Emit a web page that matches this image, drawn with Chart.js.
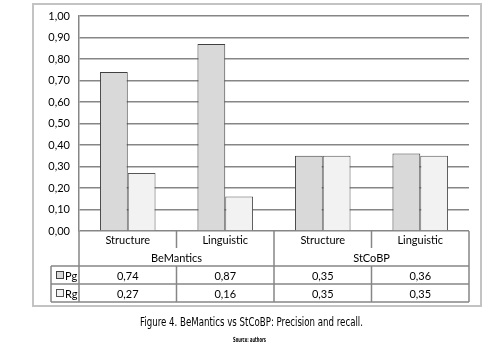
<!DOCTYPE html>
<html>
<head>
<meta charset="utf-8">
<script src="https://cdn.jsdelivr.net/npm/chart.js@4.4.1/dist/chart.umd.min.js"></script>
<style>
  html, body { margin: 0; padding: 0; background: #fff; }
  #wrap { position: relative; width: 485px; height: 351px; overflow: hidden; }
  #c { position: absolute; left: 0; top: 0; }
  .cap { position: absolute; white-space: nowrap; transform-origin: 0 0; color: #000;
         font-family: "Liberation Sans Narrow", "DejaVu Sans Condensed", "Roboto", sans-serif; }
  #caption { left: 140px; top: 315px; font-size: 12px; }
  #source { left: 233px; top: 336px; font-size: 7px; font-weight: bold; }
</style>
</head>
<body>
<div id="wrap">
  <canvas id="c" width="485" height="351"></canvas>
  <div id="caption" class="cap">Figure 4. BeMantics vs StCoBP: Precision and recall.</div>
  <div id="source" class="cap">Source: authors</div>
</div>
<script>
// ---- data ----
const categories = ['Structure', 'Linguistic', 'Structure', 'Linguistic'];
const groups = ['BeMantics', 'StCoBP'];
const seriesNames = ['Pg', 'Rg'];
const pgValues = [0.74, 0.87, 0.35, 0.36];
const rgValues = [0.27, 0.16, 0.35, 0.35];
const pgLabels = ['0,74', '0,87', '0,35', '0,36'];
const rgLabels = ['0,27', '0,16', '0,35', '0,35'];

const fillColors = ['#d9d9d9', '#f2f2f2'];
const borderColors = ['#404040', '#555555'];
const lineColor = '#868686';
const FONT = '11px Lato, "Open Sans", sans-serif';

function fmt(v) { return v.toFixed(2).replace('.', ','); }

const tablePlugin = {
  id: 'tablePlugin',
  beforeDraw(chart) {
    const ctx = chart.ctx;
    ctx.save();
    ctx.fillStyle = '#fff';
    ctx.fillRect(0, 0, chart.width, chart.height);
    ctx.strokeStyle = '#c3c3c3';
    ctx.lineWidth = 2;
    ctx.strokeRect(33, 4, 448, 302);
    ctx.restore();
  },
  afterDraw(chart) {
    const ctx = chart.ctx;
    const ca = chart.chartArea;
    const xs = chart.scales.x;
    const n = categories.length;
    const centers = categories.map((_, i) => xs.getPixelForValue(i));
    const bounds = [ca.left];
    for (let i = 0; i < n - 1; i++) bounds.push((centers[i] + centers[i + 1]) / 2);
    bounds.push(ca.right);
    const y0 = ca.bottom, y1 = y0 + 17, y2 = y0 + 35, y3 = y0 + 53, y4 = y0 + 71;
    const legL = 51;

    ctx.save();
    ctx.strokeStyle = lineColor;
    ctx.lineWidth = 1.5;
    const line = (x1, yA, x2, yB) => { ctx.beginPath(); ctx.moveTo(x1, yA); ctx.lineTo(x2, yB); ctx.stroke(); };
    // outer verticals
    line(ca.left, y0, ca.left, y4);
    line(ca.right, y0, ca.right, y4);
    // group boundary (full height)
    const mid = bounds[2];
    line(mid, y0, mid, y4);
    // category separators within groups
    line(bounds[1], y0, bounds[1], y1);
    line(bounds[3], y0, bounds[3], y1);
    line(bounds[1], y2, bounds[1], y4);
    line(bounds[3], y2, bounds[3], y4);
    // horizontal rows
    line(legL, y2, ca.right, y2);
    line(legL, y3, ca.right, y3);
    line(legL, y4, ca.right, y4);
    line(legL, y2, legL, y4);

    ctx.fillStyle = '#000';
    ctx.font = FONT;
    ctx.textAlign = 'center';
    ctx.textBaseline = 'middle';
    categories.forEach((c, i) => ctx.fillText(c, centers[i], y0 + 9.5));
    groups.forEach((g, gi) => ctx.fillText(g, (bounds[gi * 2] + bounds[gi * 2 + 2]) / 2, (y1 + y2) / 2 + 1));
    pgLabels.forEach((t, i) => ctx.fillText(t, centers[i], (y2 + y3) / 2 + 1));
    rgLabels.forEach((t, i) => ctx.fillText(t, centers[i], (y3 + y4) / 2 + 1));

    // legend keys
    ctx.textAlign = 'left';
    [y2, y3].forEach((yt, si) => {
      const cy = yt + 9;
      ctx.fillStyle = fillColors[si];
      ctx.fillRect(56, cy - 3.5, 7, 7);
      ctx.strokeStyle = borderColors[si];
      ctx.lineWidth = 1;
      ctx.strokeRect(56.5, cy - 3.5, 7, 7);
      ctx.fillStyle = '#000';
      ctx.fillText(seriesNames[si], 65, cy + 1);
    });
    ctx.restore();
  }
};

new Chart(document.getElementById('c'), {
  type: 'bar',
  data: {
    labels: categories,
    datasets: [
      { label: seriesNames[0], data: pgValues, backgroundColor: fillColors[0], borderColor: borderColors[0], borderWidth: 1 },
      { label: seriesNames[1], data: rgValues, backgroundColor: fillColors[1], borderColor: borderColors[1], borderWidth: 1 }
    ]
  },
  options: {
    responsive: false,
    animation: false,
    devicePixelRatio: 1,
    categoryPercentage: 0.57,
    barPercentage: 1.0,
    layout: { padding: { left: 33, top: 16, right: 16, bottom: 49 } },
    plugins: { legend: { display: false }, tooltip: { enabled: false }, title: { display: false } },
    scales: {
      x: {
        grid: { display: false },
        border: { display: false },
        ticks: { display: false },
        afterFit(s) { s.height = 71; }
      },
      y: {
        min: 0, max: 1,
        ticks: { stepSize: 0.1, color: '#000', font: { family: 'Lato, "Open Sans", sans-serif', size: 11 }, padding: 9,
                 callback: (v) => fmt(v) },
        grid: { color: lineColor, lineWidth: 1.5, drawTicks: false },
        border: { display: true, color: lineColor, width: 1.5 },
        afterFit(s) { s.width = 46; }
      }
    }
  },
  plugins: [tablePlugin]
});

// fit caption widths to reference
function fit(id, w) {
  const el = document.getElementById(id);
  const cw = el.getBoundingClientRect().width;
  if (cw > 0) el.style.transform = 'scaleX(' + (w / cw) + ')';
}
fit('caption', 223);
fit('source', 33);
</script>
</body>
</html>
